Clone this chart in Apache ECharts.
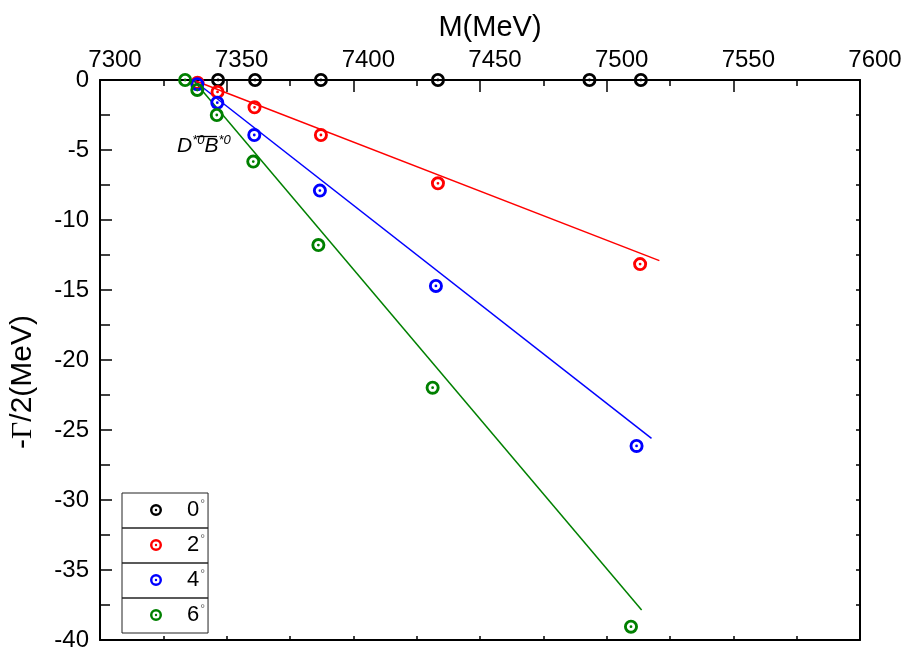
<!DOCTYPE html>
<html>
<head>
<meta charset="utf-8">
<script src="https://cdn.jsdelivr.net/npm/echarts@6/dist/echarts.min.js"></script>
<style>html,body{margin:0;padding:0;background:#fff}#c{width:902px;height:648px}</style>
</head>
<body>
<div id="c"></div>
<script>
// ---- data (M in MeV, -Gamma/2 in MeV) ----
const xTicks = [7300, 7350, 7400, 7450, 7500, 7550, 7600];
const yTicks = [0, -5, -10, -15, -20, -25, -30, -35, -40];
const angles = ['0', '2', '4', '6'];
const colors = ['#000000', '#ff0000', '#0000ff', '#008000'];

const pts0 = [[7346.6, 0], [7361.2, 0], [7387.2, 0], [7433.4, 0], [7493.2, 0], [7513.5, 0]];
const pts2 = [[7338.5, -0.2], [7346.4, -0.85], [7361.0, -1.95], [7387.2, -3.93], [7433.4, -7.38], [7513.2, -13.15]];
const pts4 = [[7338.4, -0.3], [7346.3, -1.62], [7360.9, -3.93], [7386.8, -7.9], [7432.6, -14.71], [7511.8, -26.14]];
const pts6 = [[7333.6, 0], [7338.4, -0.71], [7346.1, -2.5], [7360.5, -5.83], [7386.2, -11.79], [7431.3, -21.98], [7509.6, -39.05]];

const line2 = [[7336.8, 0], [7520.8, -12.9]];
const line4 = [[7336.8, 0], [7517.7, -25.6]];
const line6 = [[7336.8, 0], [7513.8, -37.86]];

const ring = 'path://M10,0A10,10,0,1,1,10,20A10,10,0,1,1,10,0ZM10,4.1A5.9,5.9,0,1,0,10,15.9A5.9,5.9,0,1,0,10,4.1ZM10,8A2,2,0,1,1,10,12A2,2,0,1,1,10,8Z';

const chart = echarts.init(document.getElementById('c'));
const FF = 'Liberation Sans, Arial, sans-serif';

const allPts = [pts0, pts2, pts4, pts6];
const fitLines = [null, line2, line4, line6];

const series = [];
fitLines.forEach((ln, i) => {
  if (!ln) return;
  series.push({
    name: 'fit' + angles[i], type: 'line', data: ln, showSymbol: false, symbol: 'none',
    lineStyle: { color: colors[i], width: 1.5 }, silent: true, z: 2
  });
});
allPts.forEach((p, i) => {
  series.push({
    name: angles[i], type: 'scatter', data: p, symbol: ring, symbolSize: 14,
    itemStyle: { color: colors[i], opacity: 1 }, z: 3 + i
  });
});

const legendTops = [493, 528, 563, 598];
const legends = angles.map((a, i) => ({
  data: [{ name: a, icon: ring }],
  left: 122, top: legendTops[i], orient: 'vertical',
  borderColor: '#222', borderWidth: 1, padding: [6, 3, 7, 28],
  itemWidth: 12, itemHeight: 12,
  formatter: n => '{n|' + n + '}{d|°}',
  textStyle: {
    color: '#000', fontFamily: FF,
    rich: {
      n: { fontSize: 22, lineHeight: 22, padding: [0, 0, 0, 20], fontFamily: FF, color: '#000' },
      d: { fontSize: 12, lineHeight: 10, verticalAlign: 'top', padding: [0, 0, 0, 1], fontFamily: FF, color: '#666' }
    }
  },
  selectedMode: false
}));

chart.setOption({
  animation: false,
  backgroundColor: '#fff',
  grid: { left: 100, right: 42, top: 80, bottom: 8, containLabel: false, outerBoundsMode: 'none' },
  legend: legends,
  xAxis: [{
    type: 'value', position: 'top', min: xTicks[0], max: xTicks[xTicks.length - 1], interval: 50,
    name: 'M(MeV)', nameLocation: 'middle', nameGap: 38,
    nameTextStyle: { fontSize: 29, color: '#000', fontFamily: FF, padding: [0, 0, 0, 20] },
    axisLine: { show: true, onZero: false, lineStyle: { color: '#000', width: 2 } },
    axisTick: { show: true, inside: true, length: 12, lineStyle: { color: '#000', width: 1.5 } },
    minorTick: { show: true, splitNumber: 2, length: 6, lineStyle: { color: '#000', width: 1.5 } },
    splitLine: { show: false },
    axisLabel: { fontSize: 24, color: '#000', fontFamily: FF, margin: 8, padding: [0, 0, 0, 30], formatter: v => String(v) }
  }, {
    type: 'value', position: 'bottom', min: xTicks[0], max: xTicks[xTicks.length - 1], interval: 25,
    axisLine: { show: true, onZero: false, lineStyle: { color: '#000', width: 2 } },
    axisTick: { show: true, inside: true, length: 4, lineStyle: { color: '#000', width: 1.5 } },
    splitLine: { show: false }, axisLabel: { show: false }
  }],
  yAxis: [{
    type: 'value', position: 'left', min: yTicks[yTicks.length - 1], max: yTicks[0], interval: 5,
    name: '{a|-}{g|Γ}{a|/2(MeV)}', nameLocation: 'middle', nameGap: 62, nameRotate: 90,
    nameTextStyle: {
      color: '#000', padding: [0, 44, 0, 0],
      rich: {
        a: { fontSize: 30, fontFamily: FF, color: '#000' },
        g: { fontSize: 30, fontFamily: 'Liberation Serif, Times New Roman, serif', color: '#000' }
      }
    },
    axisLine: { show: true, onZero: false, lineStyle: { color: '#000', width: 2 } },
    axisTick: { show: true, inside: true, length: 12, lineStyle: { color: '#000', width: 1.5 } },
    minorTick: { show: true, splitNumber: 2, length: 10, lineStyle: { color: '#000', width: 1.5 } },
    splitLine: { show: false },
    axisLabel: { fontSize: 24, color: '#000', fontFamily: FF, margin: 11, formatter: v => String(v) }
  }, {
    type: 'value', position: 'right', min: yTicks[yTicks.length - 1], max: yTicks[0], interval: 2.5,
    axisLine: { show: true, onZero: false, lineStyle: { color: '#000', width: 2 } },
    axisTick: { show: true, inside: true, length: 4, lineStyle: { color: '#000', width: 1.5 } },
    splitLine: { show: false }, axisLabel: { show: false }
  }],
  series: series,
  graphic: [{
    type: 'text', x: 177, y: 134, silent: true,
    style: {
      text: '{m|D}{s|*0}{b|B}{s|*0}',
      rich: {
        m: { fontSize: 21, fontStyle: 'italic', fontFamily: FF, fill: '#000', lineHeight: 25 },
        b: { fontSize: 21, fontStyle: 'italic', fontFamily: FF, fill: '#000', lineHeight: 25 },
        s: { fontSize: 13, fontStyle: 'italic', fontFamily: FF, fill: '#000', verticalAlign: 'top', lineHeight: 13 }
      }
    }
  }, {
    type: 'line', silent: true,
    shape: { x1: 197, y1: 136.5, x2: 217, y2: 136.5 },
    style: { stroke: '#000', lineWidth: 1.3 }
  }]
});
</script>
</body>
</html>
